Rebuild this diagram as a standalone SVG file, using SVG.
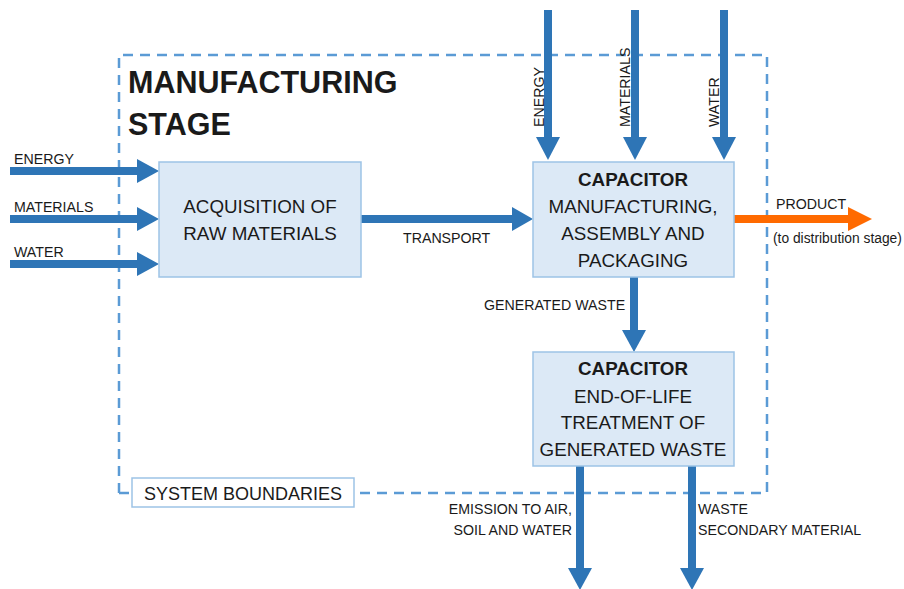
<svg xmlns="http://www.w3.org/2000/svg" width="904" height="589" viewBox="0 0 904 589">
  <style>
    text { font-family: "Liberation Sans", Arial, sans-serif; fill: #1a1a1a; }
    .lbl { font-size: 14.2px; }
    .box { fill: #dce9f6; stroke: #9dc3e6; stroke-width: 1.5; }
    .btxt { font-size: 18.8px; text-anchor: middle; }
    .bold { font-weight: bold; }
    .flow { stroke: #2e75b6; stroke-width: 8; fill: none; }
    .head { fill: #2e75b6; }
    .boundary { fill: none; stroke: #5b9bd5; stroke-width: 2.5; stroke-dasharray: 10 7; }
  </style>

  <!-- system boundary -->
  <g id="boundary">
    <path class="boundary" d="M119,493 V55 H767 V493 H354"/>
    <line class="boundary" x1="119" y1="493" x2="132" y2="493"/>
    <rect x="132" y="478" width="222" height="29" fill="#ffffff" stroke="#9dc3e6" stroke-width="1.5"/>
    <text x="243" y="500" font-size="18" text-anchor="middle">SYSTEM BOUNDARIES</text>
  </g>

  <g id="title">
    <text x="128" y="93" font-size="30.5" class="bold">MANUFACTURING</text>
    <text x="128" y="135" font-size="30.5" class="bold">STAGE</text>
  </g>

  <!-- connectors -->
  <g id="connectors">
    <!-- inputs to acquisition -->
    <line class="flow" x1="10" y1="171" x2="138" y2="171"/>
    <polygon class="head" points="137,159 159,171 137,183"/>
    <line class="flow" x1="10" y1="219" x2="138" y2="219"/>
    <polygon class="head" points="137,207 159,219 137,231"/>
    <line class="flow" x1="10" y1="264" x2="138" y2="264"/>
    <polygon class="head" points="137,252 159,264 137,276"/>

    <!-- transport -->
    <line class="flow" x1="361" y1="219" x2="513" y2="219"/>
    <polygon class="head" points="512,207 533,219 512,231"/>

    <!-- inputs to manufacturing -->
    <line class="flow" x1="548" y1="10" x2="548" y2="138"/>
    <polygon class="head" points="536,137 548,160 560,137"/>
    <line class="flow" x1="635" y1="10" x2="635" y2="138"/>
    <polygon class="head" points="623,137 635,160 647,137"/>
    <line class="flow" x1="724" y1="10" x2="724" y2="138"/>
    <polygon class="head" points="712,137 724,160 736,137"/>

    <!-- product -->
    <line stroke="#ff6a00" stroke-width="8" x1="734" y1="219" x2="849" y2="219"/>
    <polygon fill="#ff6a00" points="848,207 872,219 848,231"/>

    <!-- generated waste -->
    <line class="flow" x1="634" y1="277" x2="634" y2="331"/>
    <polygon class="head" points="622,330 634,352 646,330"/>

    <!-- outputs of end-of-life -->
    <line class="flow" x1="580" y1="466" x2="580" y2="569"/>
    <polygon class="head" points="568,568 580,590 592,568"/>
    <line class="flow" x1="692" y1="466" x2="692" y2="569"/>
    <polygon class="head" points="680,568 692,590 704,568"/>
  </g>

  <!-- flow labels -->
  <g id="labels">
    <text class="lbl" x="14" y="164">ENERGY</text>
    <text class="lbl" x="14" y="212">MATERIALS</text>
    <text class="lbl" x="14" y="257">WATER</text>
    <text class="lbl" x="403" y="243">TRANSPORT</text>
    <text class="lbl" transform="translate(544,127) rotate(-90)">ENERGY</text>
    <text class="lbl" transform="translate(630,127) rotate(-90)">MATERIALS</text>
    <text class="lbl" transform="translate(719,127) rotate(-90)">WATER</text>
    <text class="lbl" x="776" y="209">PRODUCT</text>
    <text x="773" y="243" font-size="13.8">(to distribution stage)</text>
    <text class="lbl" x="484" y="310">GENERATED WASTE</text>
    <text class="lbl" x="572" y="514" text-anchor="end">EMISSION TO AIR,</text>
    <text class="lbl" x="572" y="535" text-anchor="end">SOIL AND WATER</text>
    <text class="lbl" x="698" y="514">WASTE</text>
    <text class="lbl" x="698" y="535">SECONDARY MATERIAL</text>
  </g>

  <g id="acquisition">
    <rect class="box" x="159" y="162" width="202" height="115"/>
    <text class="btxt" x="260" y="213">ACQUISITION OF</text>
    <text class="btxt" x="260" y="240">RAW MATERIALS</text>
  </g>

  <g id="manufacturing">
    <rect class="box" x="533" y="162" width="201" height="115"/>
    <text class="btxt bold" x="633" y="186">CAPACITOR</text>
    <text class="btxt" x="633" y="213">MANUFACTURING,</text>
    <text class="btxt" x="633" y="240">ASSEMBLY AND</text>
    <text class="btxt" x="633" y="267">PACKAGING</text>
  </g>

  <g id="end-of-life">
    <rect class="box" x="533" y="352" width="201" height="114"/>
    <text class="btxt bold" x="633" y="375">CAPACITOR</text>
    <text class="btxt" x="633" y="403">END-OF-LIFE</text>
    <text class="btxt" x="633" y="429">TREATMENT OF</text>
    <text class="btxt" x="633" y="456">GENERATED WASTE</text>
  </g>
</svg>
